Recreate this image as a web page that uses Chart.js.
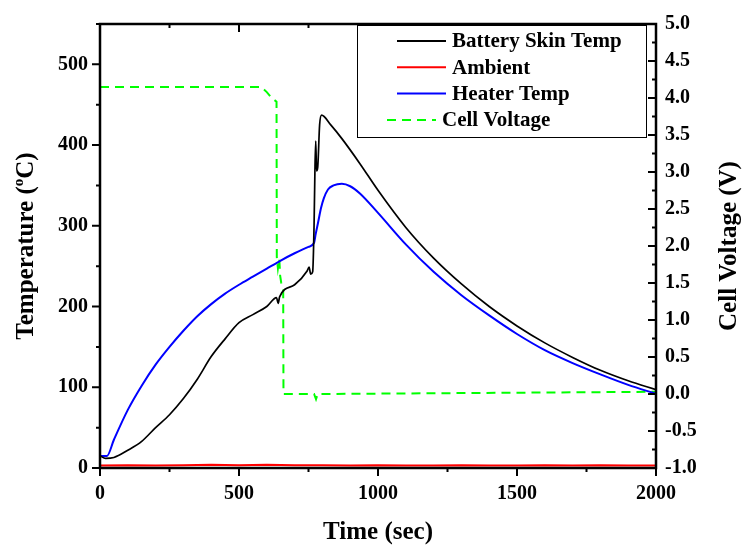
<!DOCTYPE html>
<html>
<head>
<meta charset="utf-8">
<script src="https://cdn.jsdelivr.net/npm/chart.js@4/dist/chart.umd.min.js"></script>
<style>
  body { margin: 0; background: #fff; }
  #wrap { width: 744px; height: 546px; }
</style>
</head>
<body>
<div id="wrap"><canvas id="chart"></canvas></div>
<script>
// values
const skinTime = [0, 20, 50, 100, 150, 200, 250, 300, 350, 400, 450, 500, 550, 600, 635, 641, 646, 700, 745, 752, 758, 765, 770, 773, 776, 779, 783, 790, 797, 830, 870, 935, 1000, 1100, 1200, 1300, 1400, 1500, 1600, 1700, 1800, 1900, 2000];
const skinTemp = [15, 12, 13, 22, 33, 50, 66, 86, 110, 138, 160, 180, 190, 200, 211, 204, 212, 227, 244, 249, 240, 243, 300, 366, 405, 368, 372, 425, 437, 425, 408, 377, 344, 298, 260, 228, 200, 176, 155, 137, 121, 108, 97];

const ambTime = [0, 100, 200, 300, 400, 500, 600, 700, 800, 900, 1000, 1100, 1200, 1300, 1400, 1500, 1600, 1700, 1800, 1900, 2000];
const ambTemp = [3, 3.5, 3, 3.5, 4, 3.5, 4, 3.5, 3.5, 3, 3.5, 3, 3, 3.5, 3, 3, 3.5, 3, 3.5, 3, 3];

const heatTime = [0, 25, 50, 100, 150, 200, 250, 300, 350, 400, 450, 500, 550, 600, 650, 700, 750, 770, 776, 785, 795, 805, 820, 840, 870, 900, 935, 1000, 1100, 1200, 1300, 1400, 1500, 1600, 1700, 1800, 1900, 2000];
const heatTemp = [15, 15, 35, 72, 102, 128, 150, 170, 188, 203, 216, 227, 237, 247, 257, 266, 274, 279, 290, 305, 322, 334, 345, 350, 352, 349, 340, 316, 277, 243, 214, 189, 166, 146, 130, 116, 103, 92];

const voltTime = [0, 580, 600, 618, 635, 636, 640, 645, 648, 652, 659, 660, 770, 777, 783, 1200, 2000];
const voltValue = [4.15, 4.15, 4.08, 4.0, 3.95, 1.85, 1.7, 1.83, 1.6, 1.5, 1.4, 0.0, 0.0, -0.07, 0.0, 0.01, 0.03];

const xTicks = [0, 500, 1000, 1500, 2000];
const tempTicks = [0, 100, 200, 300, 400, 500];
const leftTitle = ["Temperature (", "o", "C)"];
const rightTitle = "Cell Voltage (V)";

const serif = "'Liberation Serif', 'Times New Roman', serif";

function pts(xs, ys) {
    return xs.map((x, i) => ({ x: x, y: ys[i] }));
}

// box frame, minor/major ticks, axis titles and the boxed legend
const frame = {
    id: "frame",
    afterDatasetsDraw(chart) {
        const { ctx, chartArea: a, scales: { x, y, y1 } } = chart;
        ctx.save();
        ctx.strokeStyle = "#000";
        ctx.lineWidth = 2.5;
        ctx.strokeRect(a.left, a.top, a.right - a.left, a.bottom - a.top);

        ctx.lineWidth = 2;
        ctx.beginPath();
        for (let v = 0; v <= 2000; v += 250) {
            const px = x.getPixelForValue(v);
            const len = v % 500 === 0 ? 8 : 4;
            ctx.moveTo(px, a.bottom);
            ctx.lineTo(px, a.bottom + len);
            ctx.moveTo(px, a.top);
            ctx.lineTo(px, a.top + len);
        }
        for (let v = 0; v <= 550; v += 50) {
            const py = y.getPixelForValue(v);
            const len = v % 100 === 0 ? 8 : 4;
            ctx.moveTo(a.left, py);
            ctx.lineTo(a.left - len, py);
        }
        for (let v = -1; v <= 5; v += 0.25) {
            const py = y1.getPixelForValue(v);
            const len = Math.abs(v * 2 - Math.round(v * 2)) < 1e-6 ? 8 : 4;
            ctx.moveTo(a.right, py);
            ctx.lineTo(a.right - len, py);
        }
        ctx.stroke();

        const midY = (a.top + a.bottom) / 2;
        ctx.fillStyle = "#000";
        ctx.textBaseline = "middle";

        // left title with a raised small "o"
        ctx.save();
        ctx.translate(27, midY);
        ctx.rotate(-Math.PI / 2);
        const big = "bold 25px " + serif, small = "bold 15px " + serif;
        ctx.font = big;
        const w0 = ctx.measureText(leftTitle[0]).width;
        const w2 = ctx.measureText(leftTitle[2]).width;
        ctx.font = small;
        const w1 = ctx.measureText(leftTitle[1]).width;
        let tx = -(w0 + w1 + w2) / 2;
        ctx.textAlign = "left";
        ctx.font = big;
        ctx.fillText(leftTitle[0], tx, 0);
        tx += w0;
        ctx.font = small;
        ctx.fillText(leftTitle[1], tx, -8);
        tx += w1;
        ctx.font = big;
        ctx.fillText(leftTitle[2], tx, 0);
        ctx.restore();

        // right title, read bottom to top like the left one
        ctx.save();
        ctx.translate(730, midY);
        ctx.rotate(-Math.PI / 2);
        ctx.font = "bold 25px " + serif;
        ctx.textAlign = "center";
        ctx.fillText(rightTitle, 0, 0);
        ctx.restore();

        // legend
        const bx = 357, by = 25, bw = 289, bh = 112;
        ctx.fillStyle = "#fff";
        ctx.fillRect(bx, by, bw, bh);
        ctx.lineWidth = 1;
        ctx.strokeRect(bx + 0.5, by + 0.5, bw, bh);
        ctx.font = "bold 21px " + serif;
        ctx.textAlign = "left";
        chart.data.datasets.forEach((ds, i) => {
            const ly = 41 + i * 26.3;
            const dashed = ds.borderDash && ds.borderDash.length;
            const x0 = dashed ? 387 : 397;
            ctx.beginPath();
            ctx.setLineDash(dashed ? ds.borderDash : []);
            ctx.strokeStyle = ds.borderColor;
            ctx.lineWidth = 2;
            ctx.moveTo(x0, ly);
            ctx.lineTo(x0 + 49, ly);
            ctx.stroke();
            ctx.setLineDash([]);
            ctx.fillStyle = "#000";
            ctx.fillText(ds.label, x0 + 55, ly + 1);
        });
        ctx.restore();
    },
};

new Chart(document.getElementById("chart"), {
    type: "line",
    data: {
        datasets: [
            {
                label: "Battery Skin Temp",
                data: pts(skinTime, skinTemp),
                borderColor: "#000000",
                borderWidth: 1.7,
                cubicInterpolationMode: "monotone",
                yAxisID: "y",
            },
            {
                label: "Ambient",
                data: pts(ambTime, ambTemp),
                borderColor: "#ff0000",
                borderWidth: 2,
                yAxisID: "y",
            },
            {
                label: "Heater Temp",
                data: pts(heatTime, heatTemp),
                borderColor: "#0000ff",
                borderWidth: 2,
                cubicInterpolationMode: "monotone",
                yAxisID: "y",
            },
            {
                label: "Cell Voltage",
                data: pts(voltTime, voltValue),
                borderColor: "#00ff00",
                borderWidth: 2,
                borderDash: [9, 6],
                yAxisID: "y1",
            },
        ],
    },
    options: {
        responsive: true,
        maintainAspectRatio: false,
        animation: false,
        layout: { padding: { left: 0, right: 0, top: 23, bottom: 0 } },
        elements: {
            point: { radius: 0 },
            line: { tension: 0 },
        },
        scales: {
            x: {
                type: "linear",
                min: 0,
                max: 2000,
                afterBuildTicks: (s) => { s.ticks = xTicks.map((v) => ({ value: v })); },
                afterFit: (s) => { s.height = 78; },
                grid: { display: false, drawTicks: false },
                border: { display: false },
                ticks: {
                    autoSkip: false,
                    maxRotation: 0,
                    padding: 14,
                    color: "#000",
                    font: { family: serif, size: 20, weight: "bold" },
                    callback: (v) => String(v),
                },
                title: {
                    display: true,
                    text: "Time (sec)",
                    color: "#000",
                    font: { family: serif, size: 25, weight: "bold", lineHeight: 1 },
                    padding: { top: 0, bottom: 1 },
                },
            },
            y: {
                position: "left",
                min: 0,
                max: 550,
                afterBuildTicks: (s) => { s.ticks = tempTicks.map((v) => ({ value: v })); },
                afterFit: (s) => { s.width = 100; },
                grid: { display: false, drawTicks: false },
                border: { display: false },
                ticks: {
                    autoSkip: false,
                    padding: 12,
                    color: "#000",
                    font: { family: serif, size: 20, weight: "bold" },
                },
                title: { display: false },
            },
            y1: {
                position: "right",
                min: -1,
                max: 5,
                afterFit: (s) => { s.width = 88; },
                grid: { display: false, drawTicks: false },
                border: { display: false },
                ticks: {
                    stepSize: 0.5,
                    autoSkip: false,
                    padding: 9,
                    color: "#000",
                    font: { family: serif, size: 20, weight: "bold" },
                    callback: (v) => Number(v).toFixed(1),
                },
                title: { display: false },
            },
        },
        plugins: {
            legend: { display: false },
            tooltip: { enabled: false },
        },
    },
    plugins: [frame],
});
</script>
</body>
</html>
